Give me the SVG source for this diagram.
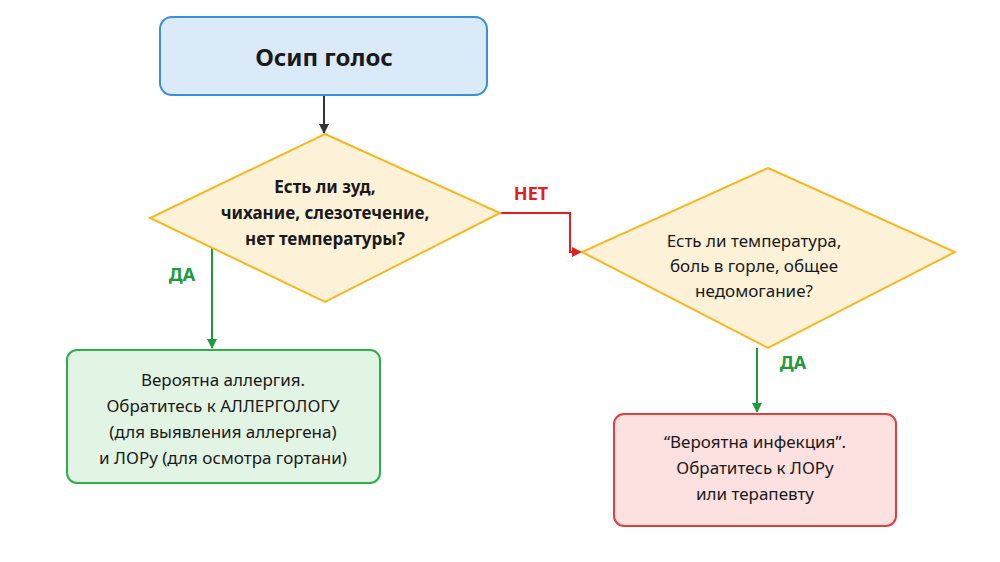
<svg xmlns="http://www.w3.org/2000/svg" width="1000" height="562" viewBox="0 0 1000 562">
<style>
text{font-family:"Noto Sans","Open Sans",sans-serif;fill:#1a1a1a;text-anchor:middle}
.q{font-size:17px;font-weight:bold}
.t{font-size:17px}
.lbl{font-size:18px;font-weight:bold}
</style>
<defs>
<marker id="ak" markerWidth="10" markerHeight="10" refX="9" refY="5" orient="auto" markerUnits="userSpaceOnUse"><path d="M0,0 L10,5 L0,10z" fill="#333"/></marker>
<marker id="ag" markerWidth="10" markerHeight="10" refX="9" refY="5" orient="auto" markerUnits="userSpaceOnUse"><path d="M0,0 L10,5 L0,10z" fill="#1e9a3c"/></marker>
<marker id="ar" markerWidth="10" markerHeight="10" refX="9" refY="5" orient="auto" markerUnits="userSpaceOnUse"><path d="M0,0 L10,5 L0,10z" fill="#e02020"/></marker>
</defs>
<rect width="1000" height="562" fill="#fff"/>
<g id="connectors" fill="none" stroke-width="2">
<line x1="324" y1="95" x2="324" y2="133" stroke="#333" marker-end="url(#ak)"/>
<line x1="212" y1="245" x2="212" y2="348" stroke="#1e9a3c" marker-end="url(#ag)"/>
<polyline points="500,213 570,213 570,252 581,252" stroke="#e02020" marker-end="url(#ar)"/>
<line x1="757" y1="348" x2="757" y2="412" stroke="#1e9a3c" marker-end="url(#ag)"/>
<text x="531" y="200" class="lbl" style="fill:#e02020;stroke:none">НЕТ</text>
<text x="182" y="281" class="lbl" style="fill:#1e9a3c;stroke:none">ДА</text>
<text x="793" y="369" class="lbl" style="fill:#1e9a3c;stroke:none">ДА</text>
</g>
<g id="start">
<rect x="160" y="17" width="327" height="78" rx="12" fill="#dbeaf8" stroke="#3b8fd9" stroke-width="2"/>
<text x="324" y="66" style="font-size:24px;font-weight:bold">Осип голос</text>
</g>
<g id="q1">
<polygon points="325,134 500,213 325,302 150,218" fill="#fdf1d8" stroke="#f5b820" stroke-width="2"/>
<text x="325" y="193" class="q">Есть ли зуд,</text>
<text x="325" y="219" class="q">чихание, слезотечение,</text>
<text x="325" y="245" class="q">нет температуры?</text>
</g>
<g id="q2">
<polygon points="768,168 955,252 768,348 582,252" fill="#fdf1d8" stroke="#f5b820" stroke-width="2"/>
<text x="754" y="247" class="t">Есть ли температура,</text>
<text x="754" y="272" class="t">боль в горле, общее</text>
<text x="754" y="297" class="t">недомогание?</text>
</g>
<g id="allergy">
<rect x="67" y="350" width="313" height="133" rx="10" fill="#e2f4e4" stroke="#2fae4a" stroke-width="2"/>
<text x="223" y="386" class="t">Вероятна аллергия.</text>
<text x="223" y="412" class="t">Обратитесь к АЛЛЕРГОЛОГУ</text>
<text x="223" y="438" class="t">(для выявления аллергена)</text>
<text x="223" y="464" class="t">и ЛОРу (для осмотра гортани)</text>
</g>
<g id="infection">
<rect x="614" y="414" width="282" height="112" rx="10" fill="#fde0e0" stroke="#e04040" stroke-width="2"/>
<text x="755" y="448" class="t">“Вероятна инфекция”.</text>
<text x="755" y="474" class="t">Обратитесь к ЛОРу</text>
<text x="755" y="500" class="t">или терапевту</text>
</g>
</svg>
